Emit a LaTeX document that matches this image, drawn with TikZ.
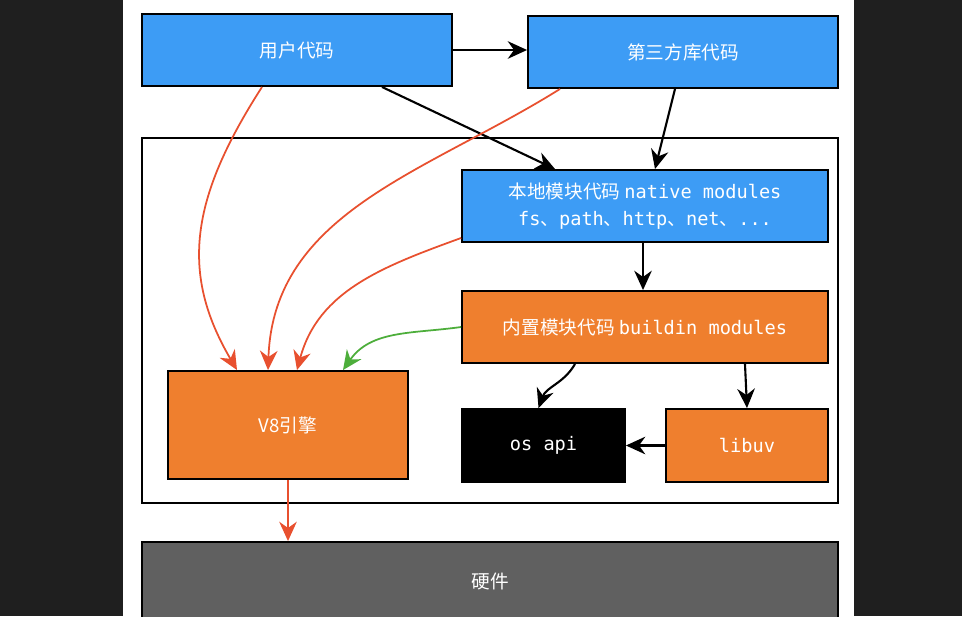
\documentclass[tikz,border=0pt]{standalone}
\usepackage{fontspec}
\setmainfont{Noto Sans CJK SC}
\setmonofont{DejaVu Sans Mono}
\usetikzlibrary{arrows.meta}

\definecolor{jsblue}{HTML}{3D9CF5}
\definecolor{jsorange}{HTML}{EF7F2E}
\definecolor{hwgray}{HTML}{606060}
\definecolor{linkred}{HTML}{E8502F}
\definecolor{linkgreen}{HTML}{4DAE3B}
\definecolor{screen}{HTML}{1F1F1F}

\begin{document}
\begin{tikzpicture}[
    x=0.02cm, y=-0.02cm,
    every node/.style={font=\fontsize{10.6}{13.5}\selectfont, text=white},
    % Stijl voor de modules
    block/.style={rectangle, draw=black, line width=1.1pt, inner sep=0pt,
                  align=center, minimum height=1.44cm},
    userblock/.style={block, fill=jsblue, minimum width=6.2cm},
    modblock/.style={block, minimum width=7.32cm},
    arrow/.style={-{Stealth[length=11pt, width=10pt]}, line width=1.2pt},
    redarrow/.style={arrow, draw=linkred, line width=1pt},
    greenarrow/.style={arrow, draw=linkgreen, line width=1pt}
]

% --- Achtergrond ---
\useasboundingbox (0,0) rectangle (962,616);
\fill[screen] (0,0) rectangle (962,616);
\fill[white] (123,0) rectangle (854,616);

% --- Bovenste rij: gebruikerscode ---
\node[userblock] (user) at (297,50) {用户代码};
\node[userblock] (third) at (683,52) {第三方库代码};

% --- Kader rond node ---
\draw[line width=1.1pt] (142,138) rectangle (838,503);

% --- Modules ---
\node[modblock, fill=jsblue] (native) at (645,206)
    {本地模块代码 \texttt{native modules}\\[2pt]
     \texttt{fs}、\texttt{path}、\texttt{http}、\texttt{net}、\texttt{...}};
\node[modblock, fill=jsorange] (builtin) at (645,327) {内置模块代码 \texttt{buildin modules}};
\node[block, fill=jsorange, minimum width=4.8cm, minimum height=2.16cm] (v8) at (288,425) {V8引擎};
\node[block, fill=black, minimum width=3.26cm, minimum height=1.46cm] (os) at (543.5,445.5) {\texttt{os api}};
\node[block, fill=jsorange, minimum width=3.24cm, minimum height=1.46cm] (libuv) at (747,445.5) {\texttt{libuv}};

% --- Hardware ---
\node[block, fill=hwgray, minimum width=13.92cm, minimum height=1.56cm] (hw) at (490,581) {硬件};

% --- Zwarte pijlen ---
\draw[arrow] (user.east) -- (user.east -| third.west);
\draw[arrow] ([xshift=1.7cm]user.south) -- ([xshift=-1.8cm]native.north);
\draw[arrow] ([xshift=-0.16cm]third.south) -- ([xshift=0.2cm]native.north);
\draw[arrow] ([xshift=-0.04cm]native.south) -- ([xshift=-0.04cm]builtin.north);
\draw[arrow] ([xshift=-1.4cm]builtin.south) to[out=-120, in=70] ([xshift=-0.1cm]os.north);
\draw[arrow] ([xshift=2cm]builtin.south) -- (libuv.north);
\draw[arrow] (libuv.west) -- (os.east);

% --- Rode en groene pijlen naar V8 ---
\draw[redarrow] ([xshift=-0.7cm]user.south) .. controls +(-72,112) and +(-57,-97) .. ([xshift=-1.02cm]v8.north);
\draw[redarrow] ([xshift=-2.46cm]third.south) to[out=-148, in=88] ([xshift=-0.4cm]v8.north);
\draw[redarrow] ([yshift=-0.64cm]native.west) to[out=-160, in=75] ([xshift=0.18cm]v8.north);
\draw[greenarrow] (builtin.west) to[out=-172, in=55] ([xshift=1.1cm]v8.north);
\draw[redarrow] (v8.south) -- (hw.north -| v8.south);

\end{tikzpicture}
\end{document}
